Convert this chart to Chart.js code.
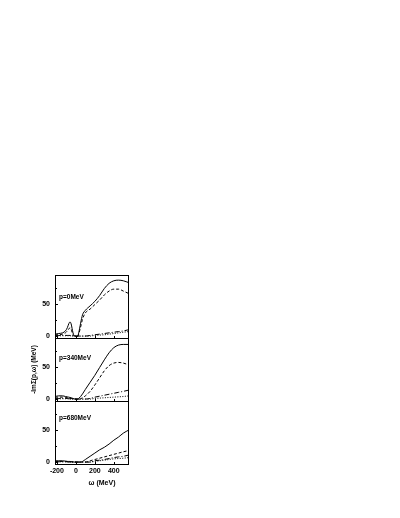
<!DOCTYPE html>
<html><head><meta charset="utf-8">
<script src="https://cdn.jsdelivr.net/npm/chart.js@4.4.1/dist/chart.umd.min.js"></script>
<style>
html,body{margin:0;padding:0;background:#fff;width:400px;height:518px;overflow:hidden}
.panel{position:absolute;left:0;top:0;width:400px;height:518px}
</style></head><body>
<div class="panel"><canvas id="c1"></canvas></div>
<div class="panel"><canvas id="c2"></canvas></div>
<div class="panel"><canvas id="c3"></canvas></div>
<script>
// ---- data ----
const omega = [-220,-180,-140,-110,-90,-75,-62,-50,-40,-30,-20,-10,0,20,30,50,70,100,150,200,250,300,350,400,450,500,560];
const xTicks = [-200,0,200,400];
const yTicksMajor = [0,50];
const yTicksAll = [0,25,50,75];
const panelLabels = ['p=0MeV','p=340MeV','p=680MeV'];
const yTitle = '-ImΣ(p,ω) (MeV)';
const xTitle = 'ω (MeV)';

const p0Solid   = [3,4,5,8,13,19,22,19,12,5,1,0,0,0,5,20,33,40,47,54,63,74,82,86,87,86,83];
const p0Dashed  = [2,2,3,5,8,11,13,11,6,2,0.5,0,0,0,3,14,26,36,42,49,56,64,70,73,73,70,66];
const p0DashDot = [1,1,1,1,1,1,1,1,0.5,0.5,0,0,0,0,0,0,0,0,1,2,3,4,5,6,7,8,10];
const p0Dotted  = [0.5,0.5,0.5,0.5,0.5,0.5,0.5,0.5,0,0,0,0,0,0,0,0,0,0,0,1,1.5,2,3,4,5,6,7];

const p340Solid   = [4,5,5,4,3.5,3,2.5,2,1.5,1,0.5,0,0,0,1,4,8,15,26,37,49,61,72,80,84,85,85];
const p340Dashed  = [3,3,3,2.5,2,1.5,1,1,0.5,0.5,0,0,0,0,0,0.5,2,5,12,22,33,44,52,56,57,56,53];
const p340DashDot = [1,1,1,1,1,0.5,0.5,0.5,0.5,0,0,0,0,0,0,0,0,0,1,3,4.5,6,7.5,9,10.5,12,14];
const p340Dotted  = [0.5,0.5,0.5,0.5,0.5,0.5,0,0,0,0,0,0,0,0,0,0,0,0,0,1,1.5,2,2.5,3,3.5,4,5];

const p680Solid   = [2,2,2,1.5,1,1,1,0.5,0.5,0.5,0,0,0,0,0,0,1,4,9,14,19,23,28,34,39,45,50];
const p680Dashed  = [1,1,1,1,1,0.5,0.5,0.5,0.5,0,0,0,0,0,0,0,0,0,2,4,6,8,10,12,14,16,18];
const p680DashDot = [0.5,0.5,0.5,0.5,0.5,0,0,0,0,0,0,0,0,0,0,0,0,0,0,2,3,4,5.5,7,8,9,11];
const p680Dotted  = [0.5,0.5,0.5,0.5,0,0,0,0,0,0,0,0,0,0,0,0,0,0,0,1,2,3,4,5,5.5,6,7];

const panelSeries = [
  [p0Solid,p0Dashed,p0DashDot,p0Dotted],
  [p340Solid,p340Dashed,p340DashDot,p340Dotted],
  [p680Solid,p680Dashed,p680DashDot,p680Dotted]
];

// ---- styling ----
const FONT = 'Liberation Sans, Arial, sans-serif';
const dashes = [[], [3,2], [5,2,1,2], [1,1.5]];
const panelBox = [[275,338],[338,401],[401,464]];
const labelY = [297,358,418];

function frameAndText(idx){
  return {
    id:'frame'+idx,
    afterDraw(chart){
      const ctx = chart.ctx, a = chart.chartArea;
      const ys = chart.scales.y, xs = chart.scales.x;
      ctx.save();
      ctx.strokeStyle = '#000'; ctx.lineWidth = 1;
      ctx.strokeRect(Math.round(a.left)+0.5, Math.round(a.top)+0.5, Math.round(a.right-a.left)-1, Math.round(a.bottom-a.top));
      ctx.beginPath();
      yTicksAll.forEach(v=>{
        const py = Math.round(ys.getPixelForValue(v))+0.5;
        const len = yTicksMajor.includes(v)?3:2;
        ctx.moveTo(a.left, py); ctx.lineTo(a.left+len, py);
      });
      xTicks.forEach(v=>{
        const px = Math.round(xs.getPixelForValue(v))+0.5;
        ctx.moveTo(px, a.bottom); ctx.lineTo(px, a.bottom-2);
      });
      ctx.stroke();
      ctx.fillStyle = '#000';
      ctx.font = 'bold 6.5px ' + FONT;
      ctx.textBaseline = 'middle'; ctx.textAlign = 'left';
      ctx.fillText(panelLabels[idx], a.left+4, labelY[idx]);
      if (idx === 2) {
        ctx.font = 'bold 7px ' + FONT;
        ctx.textAlign = 'center';
        ctx.fillText(xTitle, 102, 483);
      }
      ctx.restore();
    }
  };
}

function makePanel(idx){
  const [top,bottom] = panelBox[idx];
  const showX = idx === 2;
  const xH = 14;
  const datasets = panelSeries[idx].map((s,k)=>({
    data: omega.map((x,i)=>({x, y:s[i]})),
    borderColor:'#000', borderWidth:1, borderDash:dashes[k],
    pointRadius:0, fill:false, cubicInterpolationMode:'monotone'
  }));
  new Chart(document.getElementById('c'+(idx+1)), {
    type:'line',
    data:{datasets},
    options:{
      responsive:true, maintainAspectRatio:false, animation:false, devicePixelRatio:1,
      layout:{padding:{left:30, right:271, top:top, bottom:518-bottom-(showX?xH:0)}},
      plugins:{legend:{display:false}, tooltip:{enabled:false}},
      scales:{
        x:{type:'linear', min:-220, max:560, display:showX,
           afterBuildTicks:s=>{s.ticks = xTicks.map(v=>({value:v}));},
           afterFit:s=>{ if (showX) s.height = xH; },
           grid:{display:false, drawTicks:false}, border:{display:false},
           ticks:{autoSkip:false, maxRotation:0, padding:3, color:'#000', font:{family:FONT, size:7, weight:'bold'}}},
        y:{type:'linear', min:-3, max:95,
           afterBuildTicks:s=>{s.ticks = yTicksAll.map(v=>({value:v}));},
           afterFit:s=>{s.width = 25;},
           grid:{display:false, drawTicks:false}, border:{display:false},
           title:{display: idx===1, text:yTitle, padding:0, color:'#000', font:{family:FONT, size:6.5, weight:'bold'}},
           ticks:{padding:5, color:'#000', font:{family:FONT, size:7, weight:'bold'},
                  callback:v=> yTicksMajor.includes(v) ? String(v) : ''}}
      }
    },
    plugins:[frameAndText(idx)]
  });
}
[0,1,2].forEach(makePanel);
</script>
</body></html>
